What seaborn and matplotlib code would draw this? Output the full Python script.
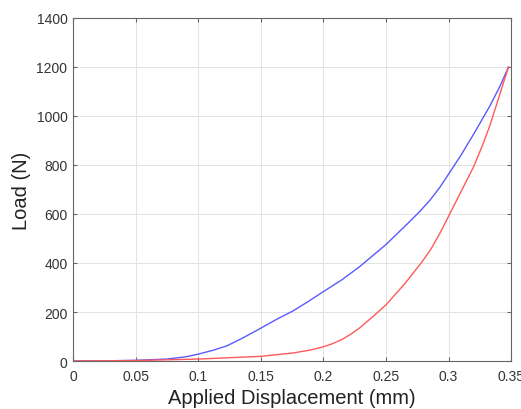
import matplotlib
matplotlib.use("Agg")
import matplotlib.pyplot as plt
import seaborn as sns
import pandas as pd

# Loading branch (blue)
load_x = [0.0, 0.03, 0.05, 0.075, 0.09, 0.1, 0.112, 0.123, 0.136, 0.149, 0.163, 0.176,
          0.188, 0.2, 0.215, 0.229, 0.25, 0.267, 0.277, 0.285, 0.293, 0.3, 0.31, 0.32,
          0.333, 0.341, 0.348]
load_y = [0, 1, 3, 8, 17, 28, 44, 62, 95, 131, 171, 205,
          243, 283, 332, 385, 475, 559, 610, 655, 708, 762, 840, 925,
          1040, 1120, 1200]
# Unloading branch (red)
unload_x = [0.0, 0.05, 0.1, 0.15, 0.176, 0.19, 0.2, 0.207, 0.215, 0.222, 0.229, 0.24,
            0.25, 0.265, 0.2786, 0.2858, 0.293, 0.3, 0.3079, 0.32, 0.327, 0.333, 0.338,
            0.344, 0.348]
unload_y = [0, 2, 8, 19, 33, 45, 58, 70, 88, 110, 135, 183,
            229, 315, 403, 455, 520, 590, 670, 792, 878, 960, 1040,
            1137, 1200]

x_ticks = [0, 0.05, 0.1, 0.15, 0.2, 0.25, 0.3, 0.35]
x_tick_labels = ["0", "0.05", "0.1", "0.15", "0.2", "0.25", "0.3", "0.35"]
y_ticks = [0, 200, 400, 600, 800, 1000, 1200, 1400]

sns.set_style("whitegrid")
plt.rcParams['font.family'] = ['Liberation Sans', 'DejaVu Sans']

fig = plt.figure(figsize=(5.21, 4.10), dpi=100)
ax = fig.add_axes([0.140, 0.117, 0.841, 0.837])

df1 = pd.DataFrame({"x": load_x, "y": load_y})
df2 = pd.DataFrame({"x": unload_x, "y": unload_y})
sns.lineplot(data=df1, x="x", y="y", ax=ax, color="#5a5aff", linewidth=1.0, sort=False)
sns.lineplot(data=df2, x="x", y="y", ax=ax, color="#ff5a5a", linewidth=1.0, sort=False)

ax.set_xlim(0, 0.35)
ax.set_ylim(0, 1400)
ax.set_xticks(x_ticks)
ax.set_xticklabels(x_tick_labels)
ax.set_yticks(y_ticks)
ax.grid(True, color="#e3e3e3", linewidth=0.7)
for s in ax.spines.values():
    s.set_visible(True)
    s.set_color("#666666")
    s.set_linewidth(0.8)
ax.tick_params(axis="both", direction="in", length=3, color="#666666",
               labelsize=10, labelcolor="#333333")
ax.tick_params(axis="x", pad=6)
ax.tick_params(axis="y", pad=4)
ax.tick_params(top=True, right=True, bottom=True, left=True)
ax.set_xlabel("Applied Displacement (mm)", fontsize=14.5, color="#222222", labelpad=3)
ax.set_ylabel("Load (N)", fontsize=14.5, color="#222222", labelpad=4)

fig.savefig("out.png", dpi=100)
